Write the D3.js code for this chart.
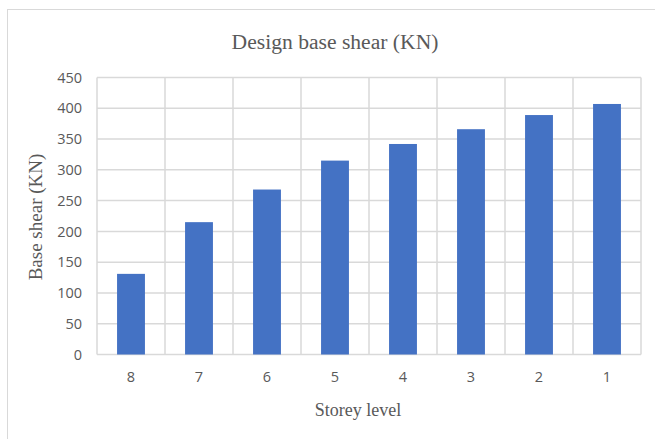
<!DOCTYPE html>
<html><head><meta charset="utf-8">
<script src="https://cdn.jsdelivr.net/npm/d3@7"></script>
<style>body{margin:0;background:#fff}</style>
</head><body>
<script>
const categories = ["8","7","6","5","4","3","2","1"];
const values = [131, 215, 268, 315, 342, 366, 389, 407];
const yTicks = [0,50,100,150,200,250,300,350,400,450];
const title = "Design base shear (KN)";
const xTitle = "Storey level";
const yTitle = "Base shear (KN)";

const W = 655, H = 439;
const svg = d3.select("body").append("svg").attr("width", W).attr("height", H);
svg.append("rect").attr("x", 7.5).attr("y", 9.5).attr("width", 660).attr("height", 440)
  .attr("fill", "#fff").attr("stroke", "#d9d9d9").attr("stroke-width", 1);

const m = {left: 97, right: 641, top: 77.5, bottom: 354.5};
const x = d3.scaleBand().domain(categories).range([m.left, m.right]).paddingInner(0).paddingOuter(0);
const y = d3.scaleLinear().domain([0, 450]).range([m.bottom, m.top]);

const grid = svg.append("g");
grid.selectAll("line.h").data(yTicks).join("line")
  .attr("x1", m.left).attr("x2", m.right)
  .attr("y1", d => y(d)).attr("y2", d => y(d))
  .attr("stroke", "#d9d9d9").attr("stroke-width", 1.5);
const vb = categories.map(c => x(c)).concat([m.right]);
grid.selectAll("line.v").data(vb).join("line")
  .attr("x1", d => d).attr("x2", d => d)
  .attr("y1", m.top).attr("y2", m.bottom)
  .attr("stroke", "#d9d9d9").attr("stroke-width", 1.5);

const bw = x.bandwidth() * 0.41;
svg.append("g").selectAll("rect").data(values).join("rect")
  .attr("x", (d,i) => x(categories[i]) + x.bandwidth()/2 - bw/2)
  .attr("width", bw)
  .attr("y", d => y(d))
  .attr("height", d => y(0) - y(d))
  .attr("fill", "#4472c4");

const yAxis = d3.axisLeft(y).tickValues(yTicks).tickSize(0).tickPadding(15);
const ga = svg.append("g").attr("transform", `translate(${m.left},0)`).call(yAxis);
ga.select(".domain").remove();
ga.selectAll("text").attr("font-family", "'Open Sans', sans-serif").attr("font-size", 14.5).attr("fill", "#595959");

const xAxis = d3.axisBottom(x).tickSize(0).tickPadding(17);
const gx = svg.append("g").attr("transform", `translate(0,${m.bottom})`).call(xAxis);
gx.select(".domain").remove();
gx.selectAll("text").attr("font-family", "'Open Sans', sans-serif").attr("font-size", 14.5).attr("fill", "#595959");

svg.append("text").attr("x", 335).attr("y", 49).attr("text-anchor", "middle")
  .attr("font-family", "'Liberation Serif', 'Times New Roman', serif").attr("font-size", 21.6)
  .attr("fill", "#595959").text(title);
svg.append("text").attr("x", 358).attr("y", 416).attr("text-anchor", "middle")
  .attr("font-family", "'Liberation Serif', 'Times New Roman', serif").attr("font-size", 18)
  .attr("fill", "#595959").text(xTitle);
svg.append("text").attr("transform", "translate(42,217) rotate(-90)").attr("text-anchor", "middle")
  .attr("font-family", "'Liberation Serif', 'Times New Roman', serif").attr("font-size", 19)
  .attr("fill", "#595959").text(yTitle);
</script>
</body></html>
